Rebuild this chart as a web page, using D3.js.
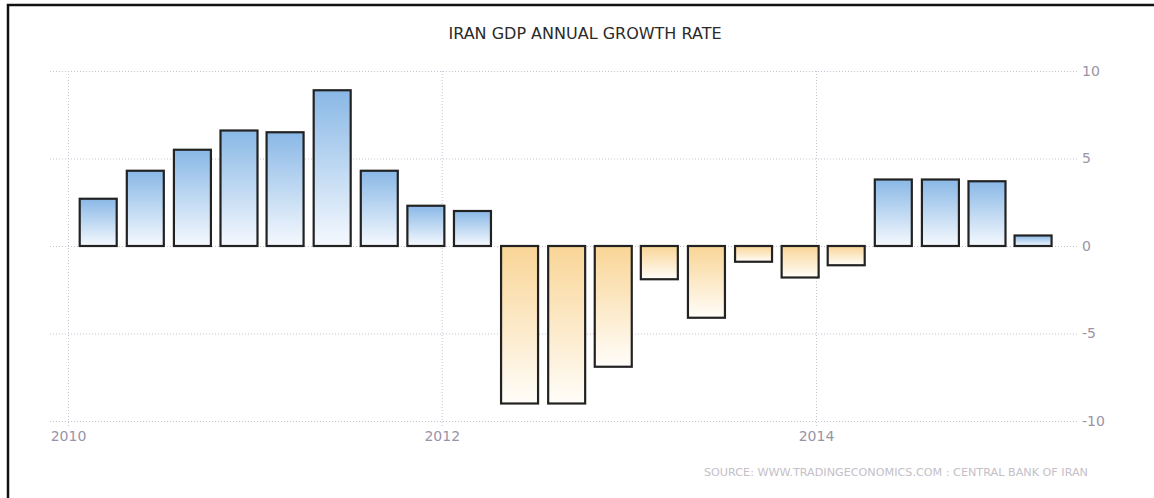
<!DOCTYPE html>
<html><head><meta charset="utf-8">
<script src="https://cdn.jsdelivr.net/npm/d3@7"></script>
<style>body{margin:0;background:#fff}svg{display:block}</style>
</head><body>
<script>
const dates = ["2010-03-01","2010-06-01","2010-09-01","2010-12-01","2011-03-01","2011-06-01","2011-09-01","2011-12-01",
  "2012-03-01","2012-06-01","2012-09-01","2012-12-01","2013-03-01","2013-06-01","2013-09-01","2013-12-01",
  "2014-03-01","2014-06-01","2014-09-01","2014-12-01","2015-03-01"];
const values = [2.7,4.3,5.5,6.6,6.5,8.9,4.3,2.3,2.0,-9.0,-9.0,-6.9,-1.9,-4.1,-0.9,-1.8,-1.1,3.8,3.8,3.7,0.6];
const yTicks = [10,5,0,-5,-10];
const xTickLabels = ["2010","2012","2014"];
const title = "IRAN GDP ANNUAL GROWTH RATE";
const source = "SOURCE: WWW.TRADINGECONOMICS.COM : CENTRAL BANK OF IRAN";

const W = 1154, H = 498;
const svg = d3.select("body").append("svg").attr("width", W).attr("height", H);
const parse = d3.timeParse("%Y-%m-%d");
const data = dates.map((d,i)=>({date: parse(d), value: values[i]}));

const x = d3.scaleTime().domain([parse("2010-01-01"), parse("2014-01-01")]).range([68, 816]);
const y = d3.scaleLinear().domain([-10, 10]).range([421, 71]);
const gridLeft = 50, gridRight = 1077, barW = 37;

const defs = svg.append("defs");
const gPos = defs.append("linearGradient").attr("id","gpos").attr("x1",0).attr("y1",0).attr("x2",0).attr("y2",1);
gPos.append("stop").attr("offset","0%").attr("stop-color","#89b8e6");
gPos.append("stop").attr("offset","100%").attr("stop-color","#f5f9fe");
const gNeg = defs.append("linearGradient").attr("id","gneg").attr("x1",0).attr("y1",0).attr("x2",0).attr("y2",1);
gNeg.append("stop").attr("offset","0%").attr("stop-color","#f9d596");
gNeg.append("stop").attr("offset","100%").attr("stop-color","#fffdf9");

// border
svg.append("rect").attr("x",8).attr("y",5).attr("width",1200).attr("height",600)
  .attr("fill","none").attr("stroke","#111").attr("stroke-width",2.5);

// horizontal grid + right axis
const yAxis = d3.axisRight(y).tickValues(yTicks).tickSize(-(gridRight-gridLeft)).tickPadding(5).tickFormat(d=>String(d));
const gy = svg.append("g").attr("transform",`translate(${gridRight},0)`).call(yAxis);
gy.select(".domain").remove();
gy.selectAll(".tick line").attr("stroke","#c9c2d2").attr("stroke-dasharray","1,2");
gy.selectAll(".tick text").attr("fill","#9a93a6").attr("font-family","DejaVu Sans").attr("font-size",14);

// vertical grid + bottom axis
const xTickDates = xTickLabels.map(s=>parse(s+"-01-01"));
const xAxis = d3.axisBottom(x).tickValues(xTickDates).tickSize(0).tickPadding(0).tickFormat(d3.timeFormat("%Y"));
const gx = svg.append("g").attr("transform",`translate(0,${y(-10)})`).call(xAxis);
gx.select(".domain").remove();
gx.selectAll(".tick line").attr("y1",-(y(-10)-y(10))).attr("y2",5).attr("stroke","#c9c2d2").attr("stroke-dasharray","1,2");
gx.selectAll(".tick text").attr("dy","1.1em").attr("y",5).attr("fill","#9a93a6").attr("font-family","DejaVu Sans").attr("font-size",14);

// bars
svg.append("g").selectAll("rect").data(data).join("rect")
  .attr("x", d=>x(d.date)-barW/2)
  .attr("width", barW)
  .attr("y", d=>y(Math.max(0,d.value)))
  .attr("height", d=>Math.abs(y(d.value)-y(0)))
  .attr("fill", d=>d.value>=0?"url(#gpos)":"url(#gneg)")
  .attr("stroke","#222").attr("stroke-width",2.2);

// title
svg.append("text").attr("x",585).attr("y",39).attr("text-anchor","middle")
  .attr("font-family","DejaVu Sans").attr("font-size",16).attr("fill","#2a2a2a").text(title);

// source
svg.append("text").attr("x",1088).attr("y",476).attr("text-anchor","end")
  .attr("font-family","DejaVu Sans").attr("font-size",11.2).attr("fill","#c4c0c8").text(source);
</script>
</body></html>
